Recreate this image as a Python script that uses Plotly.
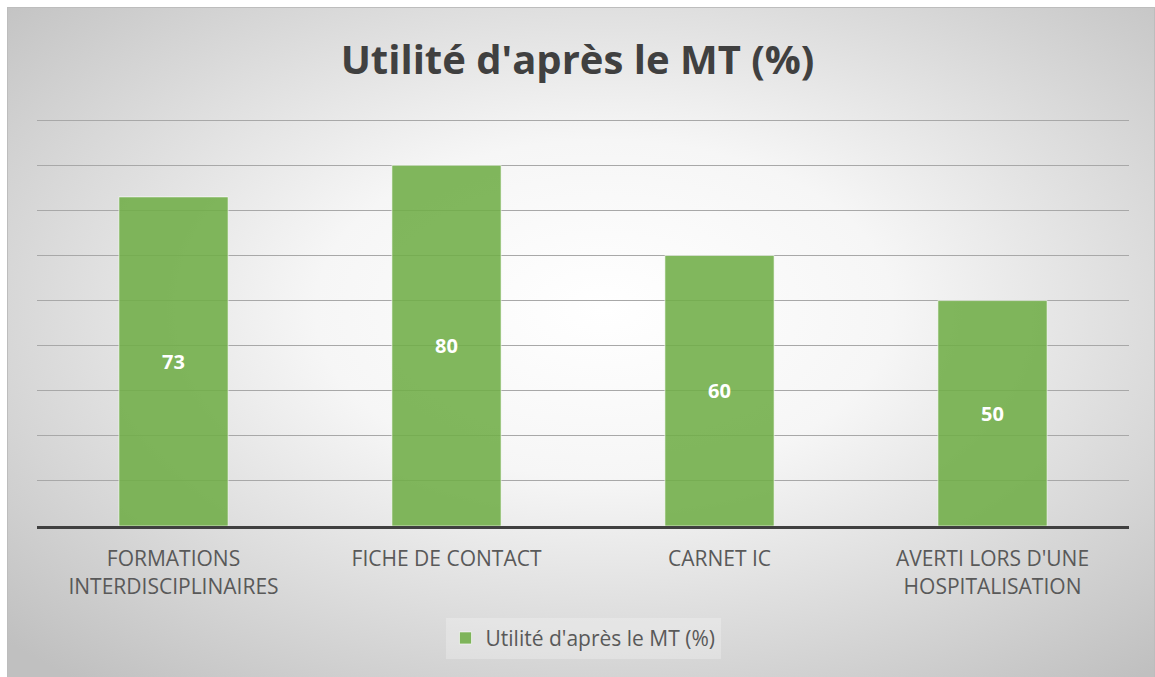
import base64
import plotly.graph_objects as go

# Data
categories = ["FORMATIONS<br>INTERDISCIPLINAIRES", "FICHE DE CONTACT", "CARNET IC",
              "AVERTI LORS D'UNE<br>HOSPITALISATION"]
values = [73, 80, 60, 50]
series_name = "Utilité d'après le MT (%)"
chart_title = "Utilité d'après le MT (%)"

W, H = 1155, 677
ml, mr, mt, mb = 37, 26, 118, 151
pw = W - ml - mr
ph = H - mt - mb

# radial gradient background with grey frame (as an SVG image)
svg = f'''<svg xmlns="http://www.w3.org/2000/svg" width="{W}" height="{H}" viewBox="0 0 {W} {H}" preserveAspectRatio="none">
<defs><radialGradient id="g" cx="0.52" cy="0.45" r="0.72">
<stop offset="0" stop-color="#ffffff"/><stop offset="0.35" stop-color="#f6f6f6"/><stop offset="1" stop-color="#c0c0c0"/>
</radialGradient></defs>
<rect x="0" y="0" width="{W}" height="{H}" fill="#ffffff"/>
<rect x="7.5" y="7.5" width="{W-8}" height="{H-7}" fill="url(#g)" stroke="#bdbdbd" stroke-width="1"/>
</svg>'''
bg_uri = "data:image/svg+xml;base64," + base64.b64encode(svg.encode()).decode()

fig = go.Figure()
fig.add_trace(go.Bar(
    x=categories,
    y=values,
    name=series_name,
    marker=dict(color="rgba(112,173,71,0.88)", line=dict(color="rgba(255,255,255,0.6)", width=1)),
    text=values,
    textposition="inside",
    insidetextanchor="middle",
    textfont=dict(color="white", size=20, family="Open Sans"),
    texttemplate="<b>%{text}</b>",
    showlegend=True,
))

fig.update_layout(
    width=W, height=H,
    margin=dict(l=ml, r=mr, t=mt, b=mb),
    paper_bgcolor="rgba(0,0,0,0)",
    plot_bgcolor="rgba(0,0,0,0)",
    font=dict(family="Open Sans", color="#595959"),
    title=dict(text="<b>" + chart_title + "</b>", x=0.5, xanchor="center", y=0.912, yanchor="middle",
               font=dict(size=40, color="#404040", family="Open Sans")),
    bargap=0.6,
    showlegend=True,
    legend=dict(orientation="h", x=0.5, xanchor="center", y=-0.225, yanchor="top",
                font=dict(size=21, color="#595959"), bgcolor="rgba(255,255,255,0.25)"),
    images=[dict(source=bg_uri, xref="paper", yref="paper",
                 x=-ml / pw, y=1 + mt / ph, sizex=W / pw, sizey=H / ph,
                 xanchor="left", yanchor="top", sizing="stretch", layer="below")],
)
fig.update_xaxes(showline=True, linecolor="#404040", linewidth=3, showgrid=False,
                 tickfont=dict(size=21, color="#595959"), ticks="", ticklabelstandoff=12)
fig.update_yaxes(range=[0, 90.5], dtick=10, showgrid=True, gridcolor="#a8a8a8", gridwidth=1,
                 showticklabels=False, zeroline=False)

# remove the default page margin so the chart sits at the window corner
fig.write_html("out.html", config={"displayModeBar": False},
               post_script="document.body.style.margin='0';")
